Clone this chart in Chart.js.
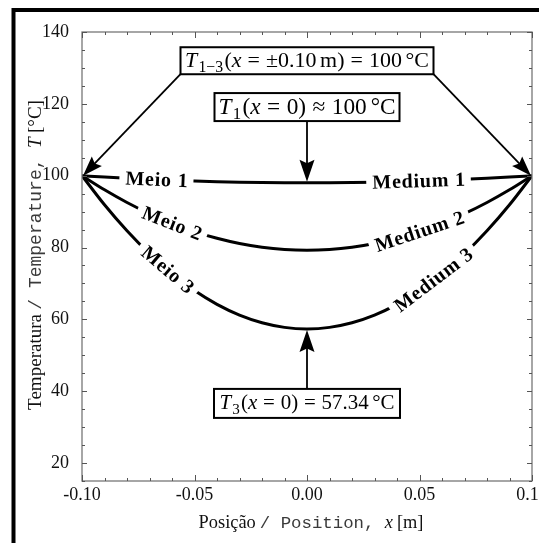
<!DOCTYPE html>
<html><head><meta charset="utf-8">
<script src="https://cdn.jsdelivr.net/npm/chart.js@4.4.1/dist/chart.umd.min.js"></script>
<style>html,body{margin:0;padding:0;background:#fff;}canvas{display:block;}</style>
</head><body>
<canvas id="c" width="539" height="543"></canvas>
<script>
// ---------------- data ----------------
const positions = [-0.10,-0.09,-0.08,-0.07,-0.06,-0.05,-0.04,-0.03,-0.02,-0.01,0.00,0.01,0.02,0.03,0.04,0.05,0.06,0.07,0.08,0.09,0.10];
const medium1 = [100.0,99.62,99.28,98.98,98.72,98.50,98.32,98.18,98.08,98.02,98.00,98.02,98.08,98.18,98.32,98.50,98.72,98.98,99.28,99.62,100.0];
const medium2 = [100.0,96.06,92.53,89.42,86.72,84.44,82.57,81.12,80.08,79.46,79.25,79.46,80.08,81.12,82.57,84.44,86.72,89.42,92.53,96.06,100.0];
const medium3 = [100.0,91.89,84.64,78.24,72.70,68.01,64.17,61.18,59.05,57.77,57.34,57.77,59.05,61.18,64.17,68.01,72.70,78.24,84.64,91.89,100.0];
const xTickLabels = ['-0.10','-0.05','0.00','0.05','0.10'];
const yTickLabels = ['20','40','60','80','100','120','140'];
const curveLabelNames = ['Meio 1','Medium 1','Meio 2','Medium 2','Meio 3','Medium 3'];
const curveLabelSeries = [0,0,1,1,2,2];
const curveLabelX = [-0.0667,0.0498,-0.0598,0.0502,-0.0618,0.0564];
const wallX = [-0.10, 0.10];
const wallT = 100;
const centreT1 = 98.00;
const centreT3 = 57.34;

// ---------------- helpers ----------------
const SERIF = '"Liberation Serif","DejaVu Serif",serif';
const MONO = '"Liberation Mono","DejaVu Sans Mono",monospace';
const series = [medium1, medium2, medium3];

function interp(arr, x) {
  for (let i = 0; i < positions.length - 1; i++) {
    if (x >= positions[i] && x <= positions[i+1]) {
      const t = (x - positions[i]) / (positions[i+1] - positions[i]);
      return arr[i] + t * (arr[i+1] - arr[i]);
    }
  }
  return arr[arr.length-1];
}
function fontOf(p, k) {
  const sz = (p.s * k).toFixed(2) + 'px ';
  if (p.mono) return sz + MONO;
  return (p.b ? 'bold ' : '') + (p.i ? 'italic ' : '') + sz + SERIF;
}
function runsWidth(ctx, parts, k) {
  let w = 0;
  for (const p of parts) { ctx.font = fontOf(p, k); w += (p.dx || 0) * k + ctx.measureText(p.t).width; }
  return w;
}
function drawRuns(ctx, parts, cx, y, target, color) {
  let k = 1;
  if (target) k = target / runsWidth(ctx, parts, 1);
  const w = runsWidth(ctx, parts, k);
  let x = cx - w / 2;
  ctx.textAlign = 'left';
  ctx.textBaseline = 'alphabetic';
  for (const p of parts) {
    ctx.font = fontOf(p, k);
    ctx.fillStyle = p.mono ? '#3a3a3a' : (color || '#000');
    x += (p.dx || 0) * k;
    ctx.fillText(p.t, x, y + (p.dy || 0) * k);
    x += ctx.measureText(p.t).width;
  }
}
function arrow(ctx, x1, y1, x2, y2, hl, hw) {
  const a = Math.atan2(y2 - y1, x2 - x1);
  const c = Math.cos(a), s = Math.sin(a);
  const bx = x2 - hl * c, by = y2 - hl * s;
  ctx.beginPath(); ctx.moveTo(x1, y1); ctx.lineTo(x2 - hl * 0.8 * c, y2 - hl * 0.8 * s); ctx.stroke();
  ctx.beginPath();
  ctx.moveTo(x2, y2);
  ctx.lineTo(bx - hw * s, by + hw * c);
  ctx.lineTo(x2 - hl * 0.85 * c, y2 - hl * 0.85 * s);
  ctx.lineTo(bx + hw * s, by - hw * c);
  ctx.closePath(); ctx.fill();
}
function box(ctx, cx, cy, w, h) {
  ctx.fillStyle = '#fff';
  ctx.fillRect(cx - w/2, cy - h/2, w, h);
  ctx.lineWidth = 2; ctx.strokeStyle = '#000';
  ctx.strokeRect(cx - w/2, cy - h/2, w, h);
  ctx.fillStyle = '#000';
}

const box1Parts = [
  {t:'T', s:18, i:true}, {t:'1\u22123', s:13, dy:4, dx:1}, {t:'(', s:18, dx:1}, {t:'x', s:18, i:true},
  {t:'=', s:18, dx:5}, {t:'\u00b10.10', s:18, dx:5}, {t:'m', s:18, dx:3}, {t:')', s:18},
  {t:'=', s:18, dx:5}, {t:'100', s:18, dx:5}, {t:'\u00b0', s:18, dx:3}, {t:'C', s:18}
];
const box2Parts = [
  {t:'T', s:18, i:true}, {t:'1', s:13, dy:4, dx:1}, {t:'(', s:18, dx:1}, {t:'x', s:18, i:true},
  {t:'=', s:18, dx:5}, {t:'0', s:18, dx:5}, {t:')', s:18},
  {t:'\u2248', s:18, dx:5}, {t:'100', s:18, dx:5}, {t:'\u00b0', s:18, dx:3}, {t:'C', s:18}
];
const box3Parts = [
  {t:'T', s:18, i:true}, {t:'3', s:13, dy:4, dx:1}, {t:'(', s:18, dx:1}, {t:'x', s:18, i:true},
  {t:'=', s:18, dx:5}, {t:'0', s:18, dx:5}, {t:')', s:18},
  {t:'=', s:18, dx:5}, {t:'57.34', s:18, dx:5}, {t:'\u00b0', s:18, dx:3}, {t:'C', s:18}
];
const xTitleParts = [
  {t:'Posi\u00e7\u00e3o', s:18}, {t:'/ Position,', s:17, mono:true, dx:4},
  {t:'x', s:18, i:true, dx:10}, {t:'[m]', s:18, dx:4}
];
const yTitleParts = [
  {t:'Temperatura', s:18}, {t:'/ Temperature,', s:17, mono:true, dx:4},
  {t:'T', s:18, i:true, dx:10}, {t:'[\u00b0C]', s:18, dx:4}
];

const decor = {
  id: 'decor',
  beforeDraw(chart) {
    const ctx = chart.ctx;
    ctx.save(); ctx.fillStyle = '#fff'; ctx.fillRect(0, 0, chart.width, chart.height); ctx.restore();
  },
  afterDatasetsDraw(chart) {
    const ctx = chart.ctx, xs = chart.scales.x, ys = chart.scales.y;
    ctx.save();
    for (let i = 0; i < curveLabelNames.length; i++) {
      const arr = series[curveLabelSeries[i]];
      const xv = curveLabelX[i];
      const px = xs.getPixelForValue(xv), py = ys.getPixelForValue(interp(arr, xv));
      const pa = ys.getPixelForValue(interp(arr, xv - 0.004)), pb = ys.getPixelForValue(interp(arr, xv + 0.004));
      const ang = Math.atan2(pb - pa, xs.getPixelForValue(xv + 0.004) - xs.getPixelForValue(xv - 0.004));
      ctx.save();
      ctx.translate(px, py); ctx.rotate(ang);
      ctx.font = 'bold 20px ' + SERIF;
      ctx.letterSpacing = '0.8px';
      const w = ctx.measureText(curveLabelNames[i]).width;
      ctx.fillStyle = '#fff';
      ctx.fillRect(-w/2 - 6, -9, w + 11, 18);
      ctx.fillStyle = '#000';
      ctx.textAlign = 'center'; ctx.textBaseline = 'middle';
      ctx.fillText(curveLabelNames[i], 0, 1);
      ctx.restore();
    }
    ctx.restore();
  },
  afterDraw(chart) {
    const ctx = chart.ctx, xs = chart.scales.x, ys = chart.scales.y, a = chart.chartArea;
    ctx.save();
    ctx.strokeStyle = '#777'; ctx.lineWidth = 1.3;
    ctx.strokeRect(a.left, a.top, a.right - a.left, a.bottom - a.top);
    ctx.strokeStyle = '#555'; ctx.lineWidth = 1;
    ctx.beginPath();
    xs.ticks.forEach(t => {
      const major = xTickLabels.some(l => Math.abs(parseFloat(l) - t.value) < 1e-6);
      const L = major ? 6 : 3;
      const x = Math.round(xs.getPixelForValue(t.value)) + 0.5;
      ctx.moveTo(x, a.bottom); ctx.lineTo(x, a.bottom - L);
      ctx.moveTo(x, a.top); ctx.lineTo(x, a.top + L);
    });
    ys.ticks.forEach(t => {
      const major = yTickLabels.some(l => Math.abs(parseFloat(l) - t.value) < 1e-6);
      const L = major ? 5 : 3;
      const y = Math.round(ys.getPixelForValue(t.value)) + 0.5;
      ctx.moveTo(a.left, y); ctx.lineTo(a.left + L, y);
      ctx.moveTo(a.right, y); ctx.lineTo(a.right - L, y);
    });
    ctx.stroke();

    const cx = xs.getPixelForValue(0);
    const b1y = ys.getPixelForValue(132.0), b2y = ys.getPixelForValue(119.1), b3y = ys.getPixelForValue(36.6);
    const b1w = 253, b1h = 27, b2w = 185, b2h = 28, b3w = 186, b3h = 29;
    ctx.strokeStyle = '#000'; ctx.fillStyle = '#000'; ctx.lineWidth = 1.8; ctx.lineCap = 'butt';
    const tipY = ys.getPixelForValue(wallT);
    arrow(ctx, cx - b1w/2, b1y + b1h/2, xs.getPixelForValue(wallX[0]) + 1, tipY, 20, 7);
    arrow(ctx, cx + b1w/2, b1y + b1h/2, xs.getPixelForValue(wallX[1]) - 1, tipY, 20, 7);
    arrow(ctx, cx, b2y + b2h/2, cx, ys.getPixelForValue(centreT1) - 1, 22, 7.5);
    arrow(ctx, cx, b3y - b3h/2, cx, ys.getPixelForValue(centreT3) + 1, 22, 7.5);
    box(ctx, cx, b1y, b1w, b1h);
    drawRuns(ctx, box1Parts, cx, b1y + 6.5, 244);
    box(ctx, cx, b2y, b2w, b2h);
    drawRuns(ctx, box2Parts, cx, b2y + 6.5, 177);
    box(ctx, cx, b3y, b3w, b3h);
    drawRuns(ctx, box3Parts, cx, b3y + 5.5, 175);

    drawRuns(ctx, xTitleParts, 311, 528, 225, '#111');
    ctx.save();
    ctx.translate(41, 255); ctx.rotate(-Math.PI/2);
    drawRuns(ctx, yTitleParts, 0, 0, 310, '#111');
    ctx.restore();

    ctx.strokeStyle = '#000'; ctx.lineWidth = 4;
    ctx.strokeRect(13.5, 10, 700, 700);
    ctx.restore();
  }
};

const datasets = series.map((arr, i) => ({
  label: 'Medium ' + (i + 1),
  data: positions.map((x, j) => ({x: x, y: arr[j]})),
  borderColor: '#000', borderWidth: 3, pointRadius: 0,
  cubicInterpolationMode: 'monotone', fill: false
}));

function labelFor(list, v) {
  const hit = list.find(l => Math.abs(parseFloat(l) - v) < 1e-6);
  return hit === undefined ? '' : hit;
}

new Chart(document.getElementById('c'), {
  type: 'line',
  data: { datasets: datasets },
  options: {
    responsive: false, animation: false, devicePixelRatio: 1,
    layout: { padding: { left: 0, top: 32, right: 7, bottom: 0 } },
    plugins: { legend: { display: false }, tooltip: { enabled: false } },
    scales: {
      x: {
        type: 'linear', min: -0.1, max: 0.1,
        grid: { display: false }, border: { display: false },
        ticks: { stepSize: 0.01, autoSkip: false, maxRotation: 0, minRotation: 0, padding: -5,
                 color: '#111', font: { family: SERIF, size: 18 },
                 callback: v => labelFor(xTickLabels, v) },
        afterFit(s) { s.height = 62; s.paddingLeft = 0; s.paddingRight = 0; }
      },
      y: {
        type: 'linear', min: 15, max: 140,
        grid: { display: false }, border: { display: false },
        ticks: { stepSize: 5, autoSkip: false, padding: 5,
                 color: '#111', font: { family: SERIF, size: 18 },
                 callback: v => labelFor(yTickLabels, v) },
        afterFit(s) { s.width = 82; s.paddingTop = 0; s.paddingBottom = 0; }
      }
    }
  },
  plugins: [decor]
});
</script>
</body></html>
